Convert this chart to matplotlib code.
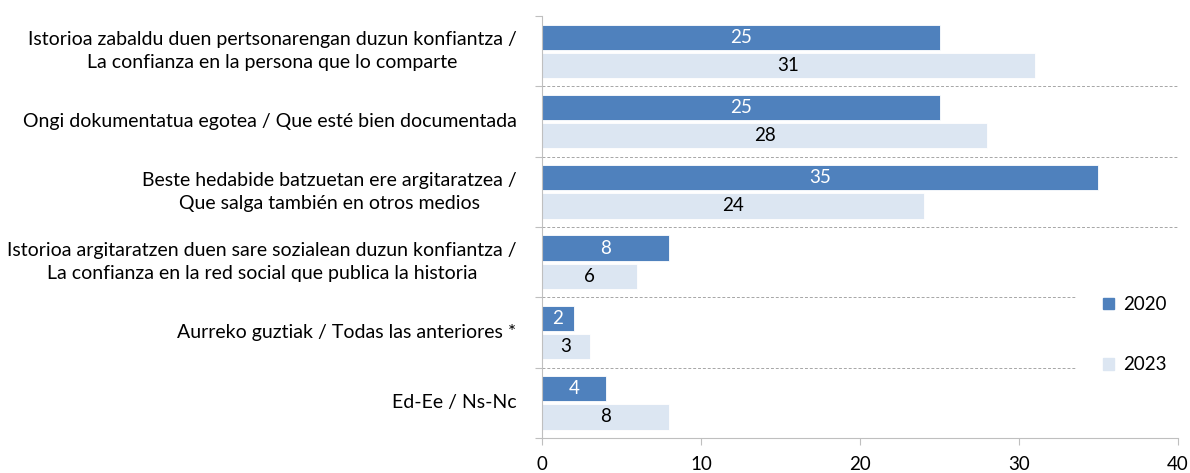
import matplotlib.pyplot as plt
import numpy as np
from matplotlib.patches import Patch

plt.rcParams['font.family'] = ['Lato', 'DejaVu Sans']

categories = [
    "Istorioa zabaldu duen pertsonarengan duzun konfiantza /\nLa confianza en la persona que lo comparte",
    "Ongi dokumentatua egotea / Que esté bien documentada",
    "Beste hedabide batzuetan ere argitaratzea /\nQue salga también en otros medios",
    "Istorioa argitaratzen duen sare sozialean duzun konfiantza /\nLa confianza en la red social que publica la historia",
    "Aurreko guztiak / Todas las anteriores *",
    "Ed-Ee / Ns-Nc",
]
v2020 = [25, 25, 35, 8, 2, 4]
v2023 = [31, 28, 24, 6, 3, 8]
years = ["2020", "2023"]

c2020 = "#4F81BD"
c2023 = "#DCE6F2"
axis_col = "#BFBFBF"

fig = plt.figure(figsize=(11.9, 4.73), dpi=100)
ax = fig.add_axes([0.4555, 0.074, 0.5344, 0.892])

n = len(categories)
y = np.arange(n)
h = 0.36
b1 = ax.barh(y - h / 2 - 0.02, v2020, height=h, color=c2020, edgecolor="white", linewidth=0.6)
b2 = ax.barh(y + h / 2 + 0.02, v2023, height=h, color=c2023, edgecolor="white", linewidth=0.6)

for bar, v in zip(b1, v2020):
    ax.text(v / 2, bar.get_y() + bar.get_height() / 2, str(v), ha="center", va="center",
            color="white", fontsize=13.5)
for bar, v in zip(b2, v2023):
    ax.text(v / 2, bar.get_y() + bar.get_height() / 2, str(v), ha="center", va="center",
            color="black", fontsize=13.5)

ax.set_ylim(n - 0.5, -0.5)
ax.set_xlim(0, 40)
ax.set_xticks([0, 10, 20, 30, 40])
ax.tick_params(axis="x", length=5, color=axis_col, labelsize=13.5, pad=8)

ax.set_yticks(np.arange(-0.5, n, 1))
ax.set_yticklabels([])
ax.tick_params(axis="y", length=5, color=axis_col)
for i, lab in enumerate(categories):
    ax.text(-0.04, i, lab, transform=ax.get_yaxis_transform(), ha="right", va="center",
            multialignment="center", fontsize=14, linespacing=1.4)

# dashed separators between groups
for i in range(n - 1):
    xmax = 1.0 if i < 3 else 0.84
    ax.axhline(i + 0.5, xmin=0, xmax=xmax, color="#A6A6A6", linestyle=(0, (3, 2)),
               linewidth=0.7, zorder=0)

for s in ["top", "right"]:
    ax.spines[s].set_visible(False)
ax.spines["left"].set_color(axis_col)
ax.spines["bottom"].set_color(axis_col)

handles = [Patch(color=c2020), Patch(color=c2023)]
ax.legend(handles, years, loc="center left", bbox_to_anchor=(0.855, 0.245), frameon=False,
          fontsize=13.5, handlelength=0.6, handleheight=0.6, handletextpad=0.5, labelspacing=2.3)

fig.savefig("out.png", dpi=100)
